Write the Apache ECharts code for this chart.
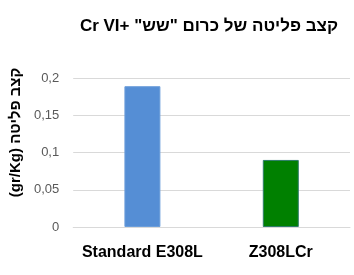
<!DOCTYPE html>
<html>
<head>
<meta charset="utf-8">
<script src="https://cdn.jsdelivr.net/npm/echarts@6/dist/echarts.min.js"></script>
<style>html,body{margin:0;padding:0;background:#fff}#c{width:354px;height:275px}</style>
</head>
<body>
<div id="c"></div>
<script>
var categories = ['Standard E308L', 'Z308LCr'];
var values = [0.189, 0.09];
var barColors = ['#558ED5', '#008000'];
var barBorders = ['#6C9EDA', '#2E7D6A'];
var titleText = '\u202B' + 'קצב פליטה של כרום "שש" +Cr VI' + '\u202C';
var yName = '\u202B' + 'קצב פליטה (gr/Kg)' + '\u202C';
var FONT = "'Liberation Sans', 'DejaVu Sans', sans-serif";

var chart = echarts.init(document.getElementById('c'), null, {renderer: 'canvas'});
chart.setOption({
  animation: false,
  title: {
    text: titleText,
    left: 204, top: 13, textAlign: 'center',
    textStyle: {fontFamily: FONT, fontWeight: 'bold', fontSize: 17, color: '#000'}
  },
  grid: {left: 66, right: 4, top: 78, bottom: 48, containLabel: false},
  xAxis: {
    type: 'category',
    data: categories,
    axisLine: {show: true, lineStyle: {color: '#D9D9D9'}},
    axisTick: {show: false},
    axisLabel: {interval: 0, fontFamily: FONT, fontWeight: 'bold', fontSize: 16, color: '#000', margin: 18}
  },
  yAxis: {
    type: 'value',
    min: 0, max: 0.2, interval: 0.05,
    name: yName,
    nameLocation: 'middle',
    nameRotate: 90,
    nameGap: 45,
    nameTextStyle: {fontFamily: FONT, fontWeight: 'bold', fontSize: 15, color: '#000', padding: [0, 0, 0, 40]},
    axisLine: {show: false},
    axisTick: {show: false},
    splitLine: {lineStyle: {color: '#D9D9D9'}},
    axisLabel: {
      fontFamily: FONT, fontSize: 13, color: '#595959', margin: 14,
      formatter: function (v) { return String(+v.toFixed(2)).replace('.', ','); }
    }
  },
  series: [{
    type: 'bar',
    barWidth: '26%',
    data: values.map(function (v, i) {
      return {value: v, itemStyle: {color: barColors[i], borderColor: barBorders[i], borderWidth: 1}};
    })
  }]
});
</script>
</body>
</html>
